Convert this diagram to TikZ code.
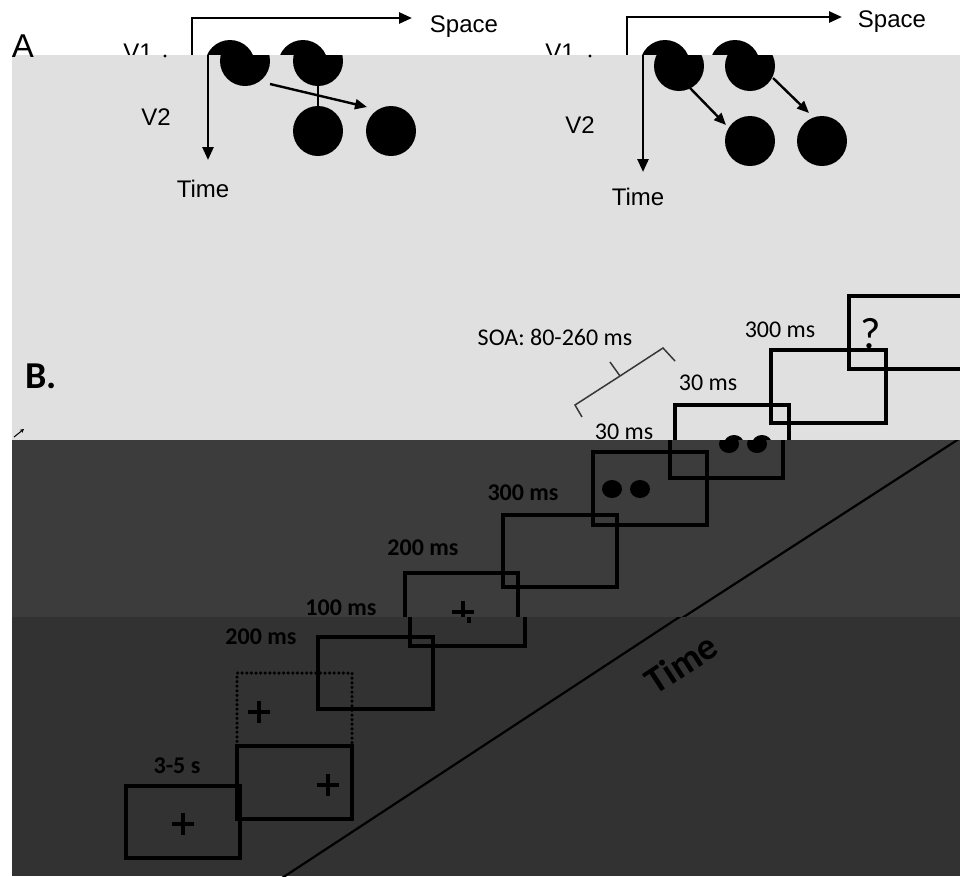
\documentclass[tikz,border=0pt]{standalone}
\usepackage{fontspec}
\setmainfont{Carlito}
\newfontfamily\arialf{Liberation Sans}
\usetikzlibrary{arrows.meta}
\definecolor{bandlight}{RGB}{224,224,224}
\definecolor{darkA}{RGB}{60,60,60}
\definecolor{darkB}{RGB}{50,50,50}
\definecolor{bracecol}{RGB}{55,55,55}
\begin{document}
\begin{tikzpicture}[x=1pt,y=-1pt,
  axis/.style={line width=2.6pt,-{Triangle[length=13pt,width=11pt]}},
  thinarr/.style={line width=2.4pt,-{Triangle[length=12pt,width=10pt]}},
  disc/.style={circle,fill=black,minimum size=50pt,inner sep=0pt},
  lblA/.style={font=\arialf\fontsize{24}{24}\selectfont,anchor=base,inner sep=0pt},
  lblB/.style={font=\fontsize{24}{24}\selectfont,anchor=base,inner sep=0pt},
  lblBb/.style={font=\bfseries\fontsize{24}{24}\selectfont,anchor=base,inner sep=0pt},
  frame/.style={draw=black,line width=3.5pt},
  dotframe/.style={draw=black,line width=3.5pt,line cap=round,dash pattern=on 0pt off 4.6pt},
  plusmark/.style={line width=4pt},
  bracestyle/.style={draw=bracecol,line width=1.5pt},
]
\useasboundingbox (0,0) rectangle (960,876);
\fill[white] (0,0) rectangle (960,876);

% ---------- white top strip (panel A, unshifted) ----------
\begin{scope}
  \clip (0,0) rectangle (960,55);
  \node[disc] (wl1) at (230,65) {};
  \node[disc] (wl2) at (303,65) {};
  \node[disc] (wr1) at (665,65) {};
  \node[disc] (wr2) at (735,65) {};
  \node[lblA] (v1l) at (138,60) {V1};
  \node[lblA] (v1r) at (560,60) {V1};
\end{scope}
\coordinate (oL) at (192,18);
\coordinate (sL) at (412,18);
\coordinate (bL) at (192,56);
\draw[axis] (bL) -- (oL) -- (sL);
\coordinate (oR) at (627,17);
\coordinate (sR) at (842,17);
\coordinate (bR) at (627,56);
\draw[axis] (bR) -- (oR) -- (sR);
\node[lblA] (spaceL) at (464,32) {Space};
\node[lblA] (spaceR) at (892,27) {Space};

% ---------- light band ----------
\fill[bandlight] (12,55) rectangle (960,440);
\node[font=\arialf\fontsize{33}{33}\selectfont,anchor=base,inner sep=0pt] (labA) at (23,57) {A};
\fill (165,56) circle[radius=1.6];
\fill (590,56) circle[radius=1.6];
\begin{scope}
  \clip (12,55) rectangle (960,440);
  % panel A left
  \coordinate (tL0) at (208,54);
  \coordinate (tL1) at (208,160);
  \draw[axis] (tL0) -- (tL1);
  \node[disc] (l1) at (245,61) {};
  \node[disc] (l2) at (318,61) {};
  \node[disc] (l3) at (318,131) {};
  \node[disc] (l4) at (391,131) {};
  \coordinate (la) at (270,84);
  \coordinate (lb) at (367,107);
  \draw[thinarr] (la) -- (lb);
  \draw[line width=2.4pt] (l2.south) -- (l3.north);
  \node[lblA] (v2l) at (156,125) {V2};
  \node[lblA] (timeL) at (203,197) {Time};
  % panel A right
  \coordinate (tR0) at (643,54);
  \coordinate (tR1) at (643,172);
  \draw[axis] (tR0) -- (tR1);
  \node[disc] (r1) at (679,66) {};
  \node[disc] (r2) at (750,66) {};
  \node[disc] (r3) at (750,141) {};
  \node[disc] (r4) at (822,141) {};
  \coordinate (ra) at (690,88);
  \coordinate (rb) at (726,125);
  \coordinate (rc) at (773,78);
  \coordinate (rd) at (809,113);
  \draw[thinarr] (ra) -- (rb);
  \draw[thinarr] (rc) -- (rd);
  \node[lblA] (v2r) at (580,133) {V2};
  \node[lblA] (timeR) at (638,205) {Time};
  % panel B, light part
  \node[font=\bfseries\fontsize{38}{38}\selectfont,anchor=base,inner sep=0pt] (labB) at (41,388) {B.};
  \coordinate (art0) at (14,437);
  \coordinate (art1) at (24,429);
  \draw[line width=1pt,-{Stealth[length=4pt,width=4pt]}] (art0) -- (art1);
  \node[lblB] (soa) at (555,345) {SOA: 80-260 ms};
  \coordinate (b1) at (582,417);
  \coordinate (b2) at (575,405);
  \coordinate (b3) at (620,376);
  \coordinate (b4) at (663,348);
  \coordinate (b5) at (675,361);
  \coordinate (b6) at (610,362);
  \draw[bracestyle] (b1) -- (b2) -- (b3) -- (b4) -- (b5);
  \draw[bracestyle] (b3) -- (b6);
  \draw[frame] (849,296) rectangle (975,369);
  \draw[frame] (771,350) rectangle (886,423);
  \draw[frame] (675,405) rectangle (789,478);
  \fill (734,444) ellipse[x radius=10,y radius=9];
  \fill (762,444) ellipse[x radius=10,y radius=9];
  \node[lblB] (t300c) at (780,337) {300 ms};
  \node[lblB] (t30b) at (708,390) {30 ms};
  \node[lblB] (t30a) at (624,439) {30 ms};
  \node[font=\fontsize{44}{44}\selectfont,anchor=base,inner sep=0pt] (qm) at (871,348) {?};
\end{scope}

% ---------- upper dark band ----------
\fill[darkA] (12,440) rectangle (960,617);
\begin{scope}
  \clip (12,440) rectangle (960,617);
  \draw[frame] (670,405) rectangle (783,478);
  \fill (729,444) ellipse[x radius=10,y radius=9];
  \fill (757,444) ellipse[x radius=10,y radius=9];
  \draw[frame] (593,452) rectangle (707,525);
  \fill (612,489) ellipse[x radius=10,y radius=9];
  \fill (640,489) ellipse[x radius=10,y radius=9];
  \draw[frame] (503,515) rectangle (617,587);
  \draw[frame] (405,573) rectangle (518,646);
  \draw[plusmark] (452,612) -- (474,612);
  \draw[plusmark] (463,601) -- (463,623);
  \node[lblBb] (t300b) at (523,500) {300 ms};
  \node[lblBb] (t200b) at (423,555) {200 ms};
  \node[lblBb] (t100) at (341,615) {100 ms};
  \coordinate (tu0) at (679,620);
  \coordinate (tu1) at (965,435);
  \draw[line width=2.2pt] (tu0) -- (tu1);
\end{scope}

% ---------- lower dark band ----------
\fill[darkB] (12,617) rectangle (960,876);
\begin{scope}
  \clip (12,617) rectangle (960,876);
  \draw[frame] (410,573) rectangle (525,646);
  \draw[plusmark] (458,612) -- (480,612);
  \draw[plusmark] (469,601) -- (469,623);
  \draw[frame] (318,637) rectangle (433,709);
  \draw[dotframe] (237,746) -- (237,673) -- (352,673) -- (352,746);
  \draw[plusmark] (248,712) -- (270,712);
  \draw[plusmark] (259,701) -- (259,723);
  \draw[frame] (237,746) rectangle (352,819);
  \draw[plusmark] (317,785) -- (339,785);
  \draw[plusmark] (328,774) -- (328,796);
  \draw[frame] (126,786) rectangle (240,858);
  \draw[plusmark] (172,824) -- (194,824);
  \draw[plusmark] (183,813) -- (183,835);
  \node[lblBb] (t200a) at (261,644) {200 ms};
  \node[lblBb] (t35) at (177,773) {3-5 s};
  \coordinate (tl0) at (282,878);
  \coordinate (tl1) at (684,614);
  \draw[line width=2.2pt] (tl0) -- (tl1);
  \node[font=\bfseries\fontsize{38}{38}\selectfont,rotate=33,inner sep=0pt] (timeB) at (681,663) {Time};
\end{scope}
\end{tikzpicture}
\end{document}
